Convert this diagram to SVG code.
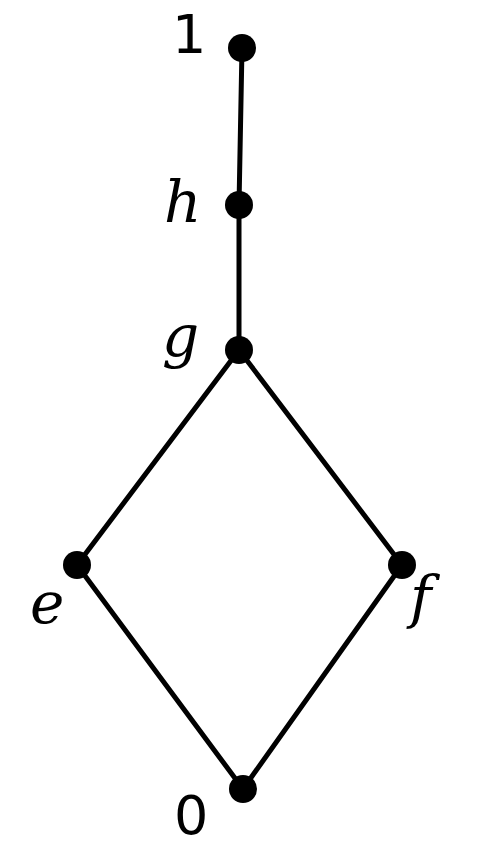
<svg xmlns="http://www.w3.org/2000/svg" width="480" height="848" viewBox="0 0 480 848">
<style>
.edge{stroke:#000;stroke-width:5;stroke-linecap:round;fill:none}
.dot{fill:#000}
.num{font-family:"DejaVu Sans","Liberation Sans",sans-serif;font-size:54px;fill:#000}
.var{font-family:"DejaVu Serif","Liberation Serif",serif;font-style:italic;font-size:58px;fill:#000}
</style>
<rect width="480" height="848" fill="#fff"/>
<g id="connectors">
<line class="edge" x1="242" y1="48" x2="239" y2="205"/>
<line class="edge" x1="239" y1="205" x2="239" y2="350"/>
<line class="edge" x1="239" y1="350" x2="77" y2="565"/>
<line class="edge" x1="239" y1="350" x2="402" y2="565"/>
<line class="edge" x1="77" y1="565" x2="243" y2="789"/>
<line class="edge" x1="402" y1="565" x2="243" y2="789"/>
</g>
<g id="node-1"><circle class="dot" cx="242" cy="48" r="14"/><text class="num" x="172" y="53">1</text></g>
<g id="node-h"><circle class="dot" cx="239" cy="205" r="14"/><text class="var" x="164" y="222">h</text></g>
<g id="node-g"><circle class="dot" cx="239" cy="350" r="14"/><text class="var" x="162" y="356">g</text></g>
<g id="node-e"><circle class="dot" cx="77" cy="565" r="14"/><text class="var" x="30" y="623">e</text></g>
<g id="node-f"><circle class="dot" cx="402" cy="565" r="14"/><text class="var" x="410" y="617">f</text></g>
<g id="node-0"><circle class="dot" cx="243" cy="789" r="14"/><text class="num" x="174" y="834">0</text></g>
</svg>
